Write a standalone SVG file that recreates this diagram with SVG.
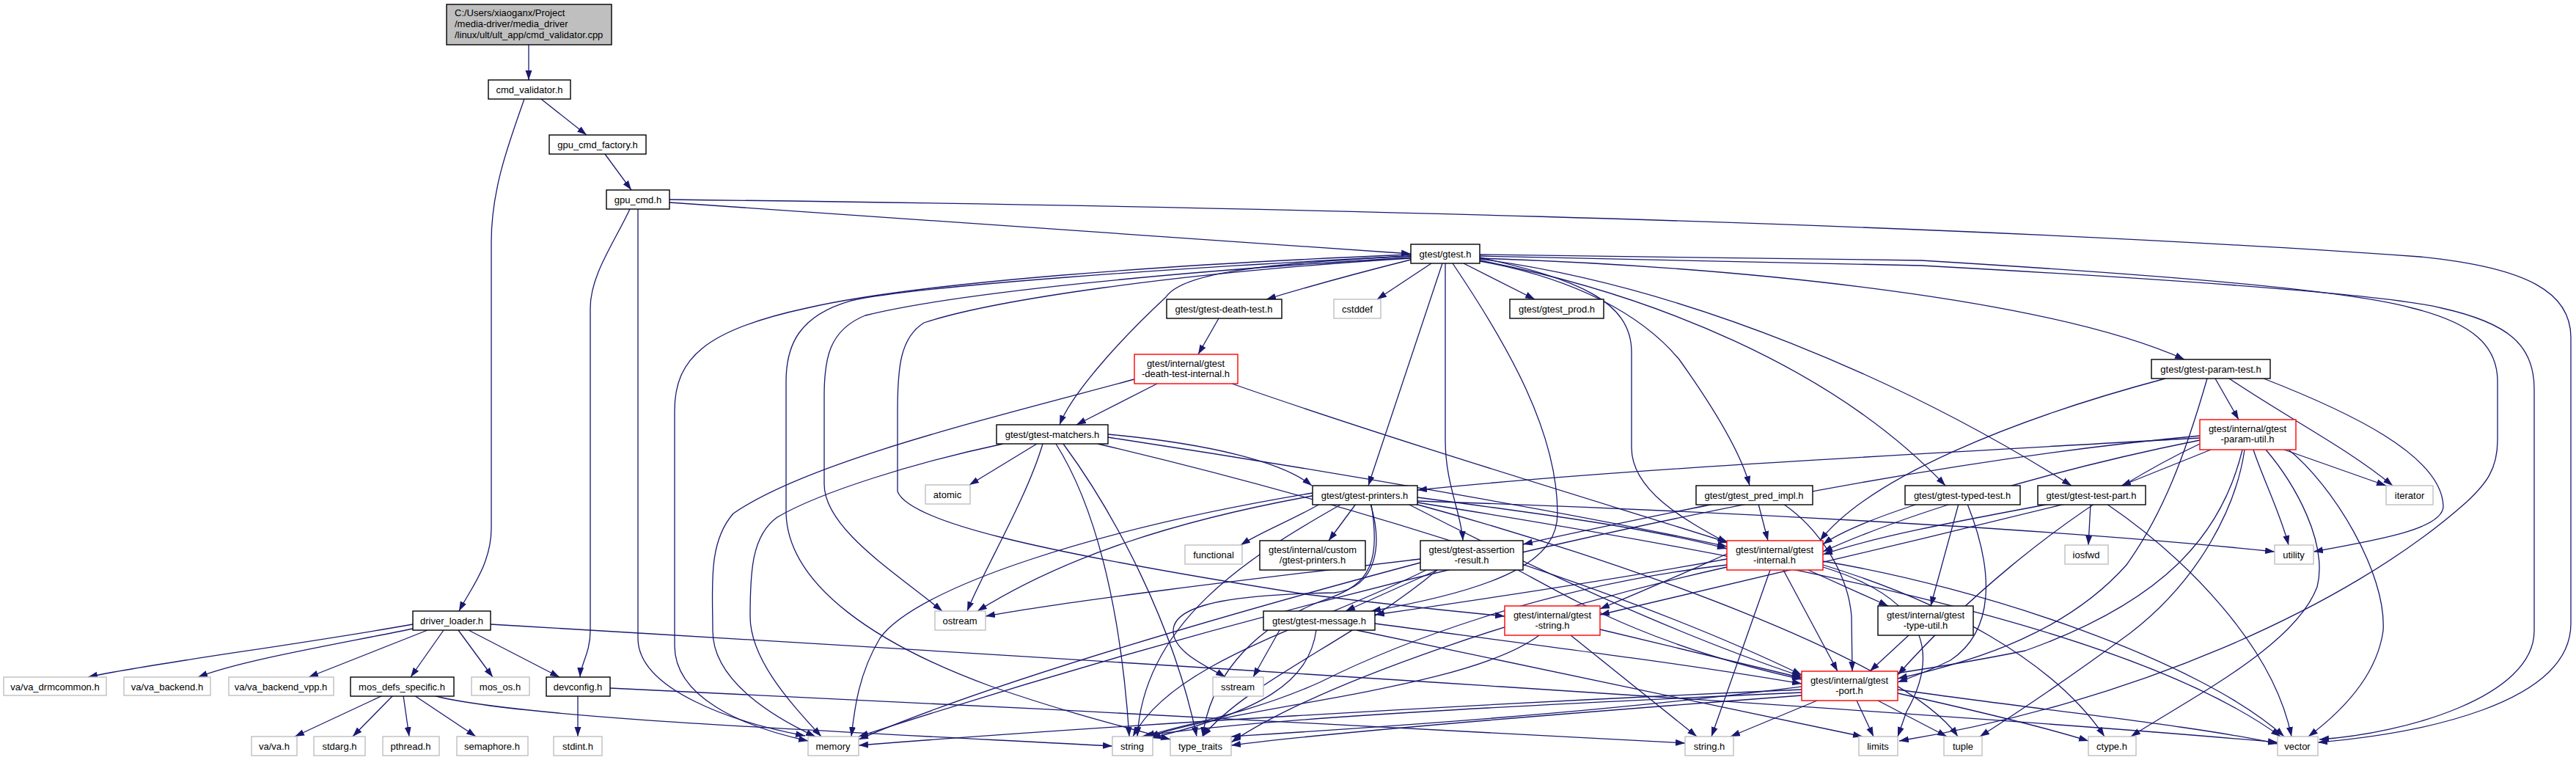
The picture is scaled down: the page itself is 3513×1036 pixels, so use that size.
<svg xmlns="http://www.w3.org/2000/svg" width="3513" height="1036" viewBox="0 0 3513 1036">
<style>
rect{fill:#fff;stroke:#000;stroke-width:1.4}
.g rect{stroke:#bfbfbf}
.r rect{stroke:#ff0000}
.root rect{fill:#bfbfbf}
text{font-family:"Liberation Sans",Arial,sans-serif;font-size:13px;fill:#000;text-anchor:middle}
.root text{text-anchor:start}
#edges path{fill:none;stroke:#191970;stroke-width:1.3;marker-end:url(#a)}
</style>
<defs>
<marker id="a" markerUnits="userSpaceOnUse" markerWidth="14" markerHeight="10" refX="13" refY="5" orient="auto"><path d="M0,0.5 L13,5 L0,9.5 z" fill="#191970"/></marker>
</defs>
<rect x="0" y="0" width="3513" height="1036" style="fill:#fff;stroke:none"/>
<g id="edges">
<path d="M721,61 L721,109"/>
<path d="M738,135 L800,184"/>
<path d="M715,135 C692,200 670,260 670,330 L670,720 C670,770 640,805 626,833"/>
<path d="M825,210 L861,259"/>
<path d="M913,276 L1924,346"/>
<path d="M913,272 C1600,280 2600,300 3300,350 C3450,365 3506,400 3506,460 L3506,850 C3506,960 3300,1000 3161,1012"/>
<path d="M859,285 C838,330 805,375 805,420 L805,860 C805,890 792,905 791,923"/>
<path d="M870,285 L870,870 C870,940 1000,985 1098,1003"/>
<path d="M563,851 C400,880 200,905 120,923"/>
<path d="M563,857 C450,880 330,900 270,923"/>
<path d="M583,859 L421,923"/>
<path d="M605,859 L560,923"/>
<path d="M625,859 L672,923"/>
<path d="M639,859 L763,923"/>
<path d="M669,851 C1500,900 2700,975 3106,1012"/>
<path d="M522,948 L402,1004"/>
<path d="M536,948 L481,1004"/>
<path d="M550,948 L558,1004"/>
<path d="M565,948 L649,1004"/>
<path d="M591,948 C700,978 1100,995 1517,1017"/>
<path d="M788,949 L788,1004"/>
<path d="M832,938 C1300,960 1900,990 2298,1013"/>
<path d="M1952,359 L1878,408"/>
<path d="M1996,359 L2093,408"/>
<path d="M1924,354 C1840,375 1780,392 1727,408"/>
<path d="M1924,349 C1700,360 1610,375 1590,405 C1520,470 1460,540 1445,579"/>
<path d="M1967,359 L1866,662"/>
<path d="M1971,359 L1971,600 C1971,660 1993,700 1995,737"/>
<path d="M1981,359 C2058,473 2124,590 2124,700 C2124,760 2060,800 1870,833"/>
<path d="M2018,351 C2150,380 2225,410 2225,480 L2225,610 C2225,670 2300,710 2355,740"/>
<path d="M2018,356 C2150,380 2240,430 2290,490 C2340,560 2375,620 2386,662"/>
<path d="M2018,355 C2250,400 2500,500 2653,662"/>
<path d="M2018,353 C2300,390 2600,520 2825,662"/>
<path d="M2018,352 C2400,365 2800,410 2979,490"/>
<path d="M2018,347 L2620,355 C2950,375 3200,395 3290,420 C3370,440 3406,470 3406,520 L3406,600 C3406,640 3390,660 3363,685 C3200,830 2900,960 2590,1010"/>
<path d="M2018,349 L2620,362 C2950,380 3250,400 3330,420 C3420,440 3456,470 3456,530 L3456,860 C3456,950 3280,1000 3163,1008"/>
<path d="M1924,347 C1600,360 1250,385 1100,420 C960,450 920,490 920,560 L920,880 C920,950 1010,990 1102,1010"/>
<path d="M1924,349 C1600,365 1250,390 1160,410 C1090,430 1072,470 1072,520 L1072,700 C1075,800 1200,880 1350,935 C1450,970 1530,990 1596,1008"/>
<path d="M1924,351 C1600,370 1300,400 1180,430 C1130,450 1124,490 1124,540 L1124,660 C1124,720 1220,780 1285,833"/>
<path d="M1924,352 C1600,372 1350,410 1260,440 C1228,460 1224,500 1224,560 L1224,670 C1240,710 1400,750 1780,810 C1900,825 2000,835 2052,840"/>
<path d="M1662,434 L1634,483"/>
<path d="M1578,523 L1468,579"/>
<path d="M1547,517 C1350,570 1100,630 1000,700 C965,740 972,800 972,860 C972,930 1060,980 1112,1004"/>
<path d="M1680,523 C1900,600 2200,690 2358,740"/>
<path d="M1414,605 L1322,661"/>
<path d="M1368,605 C1250,630 1120,670 1060,705 C1025,730 1023,780 1023,840 C1023,900 1080,960 1120,1004"/>
<path d="M1422,605 C1400,680 1340,780 1319,833"/>
<path d="M1440,605 C1500,700 1530,850 1540,1004"/>
<path d="M1450,605 C1520,700 1600,850 1632,1004"/>
<path d="M1511,592 C1650,605 1750,630 1789,662"/>
<path d="M1511,596 C1800,640 2150,700 2355,745"/>
<path d="M1497,605 C1900,700 2250,820 2457,920"/>
<path d="M1800,687 C1760,710 1720,725 1692,743"/>
<path d="M1849,687 L1812,737"/>
<path d="M1869,687 C1885,740 1880,800 1820,808 C1700,810 1600,820 1600,860 C1600,890 1650,910 1671,923"/>
<path d="M1790,672 C1500,720 1250,800 1200,870 C1170,920 1165,970 1161,1004"/>
<path d="M1795,675 C1600,710 1450,760 1333,833"/>
<path d="M1830,687 C1700,760 1560,850 1551,1004"/>
<path d="M1870,687 C1885,780 1860,800 1800,820 C1700,860 1650,930 1640,1004"/>
<path d="M1933,683 C2300,695 2800,720 3102,752"/>
<path d="M1933,685 C2400,760 2900,850 3110,1004"/>
<path d="M1930,687 C2200,760 2600,900 2670,1004"/>
<path d="M1933,678 C2100,700 2250,720 2355,748"/>
<path d="M1920,687 C2100,780 2300,870 2457,922"/>
<path d="M3021,516 L3053,572"/>
<path d="M3040,516 C3120,570 3200,610 3263,662"/>
<path d="M3087,516 C3200,560 3330,620 3332,690 C3332,720 3250,735 3155,752"/>
<path d="M2953,516 C2750,570 2550,650 2482,737"/>
<path d="M3010,516 C2980,620 2950,700 2900,770 C2820,860 2700,900 2588,925"/>
<path d="M3015,613 L2893,662"/>
<path d="M3115,613 L3254,662"/>
<path d="M3073,613 C3085,650 3110,700 3121,743"/>
<path d="M3090,613 C3130,660 3175,740 3160,800 C3130,880 2990,950 2906,1004"/>
<path d="M3121,613 C3180,660 3255,780 3250,860 C3240,930 3180,980 3148,1004"/>
<path d="M3061,613 C3050,690 3000,790 2905,863 C2800,940 2730,985 2700,1004"/>
<path d="M3058,613 C3030,730 2950,820 2762,887 C2400,960 1900,990 1679,1004"/>
<path d="M3000,597 C2600,620 2200,640 1933,668"/>
<path d="M3000,600 C2800,640 2600,700 2486,752"/>
<path d="M3000,605 C2800,700 2650,850 2588,920"/>
<path d="M3000,594 C2500,640 1800,800 1171,1004"/>
<path d="M2615,687 C2560,705 2510,725 2486,742"/>
<path d="M2671,687 L2633,826"/>
<path d="M2683,687 C2720,780 2720,860 2660,900 C2630,915 2610,922 2588,930"/>
<path d="M2851,687 L2848,743"/>
<path d="M2873,687 C2980,760 3100,880 3125,1004"/>
<path d="M2795,687 C2700,705 2560,730 2486,756"/>
<path d="M2816,687 C2600,740 2350,800 2182,838"/>
<path d="M2398,687 L2411,737"/>
<path d="M2337,687 C2250,705 2150,725 2077,742"/>
<path d="M2432,687 C2480,720 2520,780 2525,840 L2526,915"/>
<path d="M1960,777 L1835,833"/>
<path d="M2070,777 C2150,820 2250,880 2457,926"/>
<path d="M1937,767 C1700,830 1350,930 1171,1008"/>
<path d="M1937,762 C1700,790 1450,820 1344,840"/>
<path d="M1945,777 C1800,850 1600,900 1545,1004"/>
<path d="M1960,777 C1850,870 1700,930 1640,1004"/>
<path d="M2432,777 L2506,915"/>
<path d="M2414,777 L2334,1004"/>
<path d="M2355,755 C2300,780 2230,810 2182,830"/>
<path d="M2466,777 L2575,826"/>
<path d="M2355,762 C2200,790 2000,820 1875,838"/>
<path d="M2486,770 C2650,820 2800,900 2870,1004"/>
<path d="M2486,765 C2700,800 3000,900 3115,1004"/>
<path d="M2486,773 C2640,820 2640,900 2600,970 L2588,1004"/>
<path d="M2355,770 C2100,800 1900,880 1800,930 C1700,975 1600,990 1562,1004"/>
<path d="M2355,773 C2100,830 1800,930 1679,1012"/>
<path d="M2142,866 L2314,1004"/>
<path d="M2182,858 L2457,924"/>
<path d="M2099,866 C2000,940 1700,960 1567,1004"/>
<path d="M1745,859 L1709,923"/>
<path d="M1795,859 C1785,930 1720,970 1570,1006"/>
<path d="M1875,850 C2100,880 2300,905 2457,932"/>
<path d="M1850,859 L2540,1004"/>
<path d="M2603,866 L2550,915"/>
<path d="M2478,955 L2360,1004"/>
<path d="M2532,955 L2555,1004"/>
<path d="M2561,955 L2655,1004"/>
<path d="M2588,945 C2700,970 2800,995 2848,1010"/>
<path d="M2588,940 C2800,970 3000,990 3106,1014"/>
<path d="M2457,940 C2000,960 1500,990 1171,1016"/>
<path d="M2457,944 C2100,960 1700,980 1557,1004"/>
<path d="M2457,948 C2100,975 1800,1000 1679,1016"/>
</g>
<g id="n_root" class="root"><rect x="609" y="6" width="225" height="55"/><text x="620" y="22">C:/Users/xiaoganx/Project</text><text x="620" y="37">/media-driver/media_driver</text><text x="620" y="52">/linux/ult/ult_app/cmd_validator.cpp</text></g>
<g id="n_cmdv"><rect x="666" y="109" width="112" height="26"/><text x="722" y="127">cmd_validator.h</text></g>
<g id="n_gcf"><rect x="749" y="184" width="132" height="26"/><text x="815" y="202">gpu_cmd_factory.h</text></g>
<g id="n_gpu"><rect x="827" y="259" width="86" height="26"/><text x="870" y="277">gpu_cmd.h</text></g>
<g id="n_gtest"><rect x="1924" y="333" width="94" height="26"/><text x="1971" y="351">gtest/gtest.h</text></g>
<g id="n_driver"><rect x="563" y="833" width="106" height="26"/><text x="616" y="851">driver_loader.h</text></g>
<g id="n_vadrm" class="g"><rect x="5" y="923" width="140" height="25"/><text x="75" y="941">va/va_drmcommon.h</text></g>
<g id="n_vabe" class="g"><rect x="169" y="923" width="118" height="25"/><text x="228" y="941">va/va_backend.h</text></g>
<g id="n_vavpp" class="g"><rect x="312" y="923" width="143" height="25"/><text x="383" y="941">va/va_backend_vpp.h</text></g>
<g id="n_mosdefs"><rect x="478" y="923" width="141" height="26"/><text x="548" y="941">mos_defs_specific.h</text></g>
<g id="n_mosos" class="g"><rect x="643" y="923" width="79" height="25"/><text x="682" y="941">mos_os.h</text></g>
<g id="n_devcfg"><rect x="745" y="923" width="87" height="26"/><text x="788" y="941">devconfig.h</text></g>
<g id="n_vah" class="g"><rect x="343" y="1004" width="62" height="26"/><text x="374" y="1022">va/va.h</text></g>
<g id="n_stdarg" class="g"><rect x="428" y="1004" width="70" height="26"/><text x="463" y="1022">stdarg.h</text></g>
<g id="n_pthread" class="g"><rect x="522" y="1004" width="77" height="26"/><text x="560" y="1022">pthread.h</text></g>
<g id="n_semaphore" class="g"><rect x="623" y="1004" width="97" height="26"/><text x="671" y="1022">semaphore.h</text></g>
<g id="n_stdint" class="g"><rect x="755" y="1004" width="66" height="26"/><text x="788" y="1022">stdint.h</text></g>
<g id="n_deathtest"><rect x="1591" y="408" width="157" height="26"/><text x="1669" y="426">gtest/gtest-death-test.h</text></g>
<g id="n_cstddef" class="g"><rect x="1819" y="408" width="64" height="26"/><text x="1851" y="426">cstddef</text></g>
<g id="n_prod"><rect x="2059" y="408" width="128" height="26"/><text x="2123" y="426">gtest/gtest_prod.h</text></g>
<g id="n_dti" class="r"><rect x="1547" y="483" width="141" height="40"/><text x="1617" y="500">gtest/internal/gtest</text><text x="1617" y="514">-death-test-internal.h</text></g>
<g id="n_matchers"><rect x="1359" y="579" width="152" height="26"/><text x="1435" y="597">gtest/gtest-matchers.h</text></g>
<g id="n_atomic" class="g"><rect x="1262" y="661" width="61" height="26"/><text x="1292" y="679">atomic</text></g>
<g id="n_paramtest"><rect x="2934" y="490" width="162" height="26"/><text x="3015" y="508">gtest/gtest-param-test.h</text></g>
<g id="n_paramutil" class="r"><rect x="3000" y="572" width="131" height="41"/><text x="3065" y="589">gtest/internal/gtest</text><text x="3065" y="603">-param-util.h</text></g>
<g id="n_printers"><rect x="1790" y="662" width="143" height="26"/><text x="1861" y="680">gtest/gtest-printers.h</text></g>
<g id="n_predimpl"><rect x="2313" y="662" width="159" height="26"/><text x="2392" y="680">gtest/gtest_pred_impl.h</text></g>
<g id="n_typed"><rect x="2598" y="662" width="157" height="26"/><text x="2676" y="680">gtest/gtest-typed-test.h</text></g>
<g id="n_testpart"><rect x="2779" y="662" width="147" height="26"/><text x="2852" y="680">gtest/gtest-test-part.h</text></g>
<g id="n_iterator" class="g"><rect x="3254" y="662" width="64" height="26"/><text x="3286" y="680">iterator</text></g>
<g id="n_functional" class="g"><rect x="1616" y="743" width="78" height="26"/><text x="1655" y="761">functional</text></g>
<g id="n_custom"><rect x="1718" y="737" width="144" height="40"/><text x="1790" y="754">gtest/internal/custom</text><text x="1790" y="768">/gtest-printers.h</text></g>
<g id="n_assertion"><rect x="1937" y="737" width="140" height="40"/><text x="2007" y="754">gtest/gtest-assertion</text><text x="2007" y="768">-result.h</text></g>
<g id="n_internal" class="r"><rect x="2355" y="737" width="131" height="40"/><text x="2420" y="754">gtest/internal/gtest</text><text x="2420" y="768">-internal.h</text></g>
<g id="n_iosfwd" class="g"><rect x="2816" y="743" width="59" height="26"/><text x="2845" y="761">iosfwd</text></g>
<g id="n_utility" class="g"><rect x="3102" y="743" width="53" height="26"/><text x="3128" y="761">utility</text></g>
<g id="n_ostream" class="g"><rect x="1275" y="833" width="69" height="26"/><text x="1309" y="851">ostream</text></g>
<g id="n_message"><rect x="1723" y="833" width="152" height="26"/><text x="1799" y="851">gtest/gtest-message.h</text></g>
<g id="n_gstring" class="r"><rect x="2052" y="826" width="130" height="40"/><text x="2117" y="843">gtest/internal/gtest</text><text x="2117" y="857">-string.h</text></g>
<g id="n_typeutil"><rect x="2561" y="826" width="130" height="40"/><text x="2626" y="843">gtest/internal/gtest</text><text x="2626" y="857">-type-util.h</text></g>
<g id="n_sstream" class="g"><rect x="1654" y="923" width="69" height="26"/><text x="1688" y="941">sstream</text></g>
<g id="n_port" class="r"><rect x="2457" y="915" width="131" height="40"/><text x="2522" y="932">gtest/internal/gtest</text><text x="2522" y="946">-port.h</text></g>
<g id="n_memory" class="g"><rect x="1102" y="1004" width="69" height="26"/><text x="1136" y="1022">memory</text></g>
<g id="n_string" class="g"><rect x="1517" y="1004" width="55" height="26"/><text x="1544" y="1022">string</text></g>
<g id="n_typetraits" class="g"><rect x="1596" y="1004" width="83" height="26"/><text x="1637" y="1022">type_traits</text></g>
<g id="n_stringh" class="g"><rect x="2298" y="1004" width="66" height="26"/><text x="2331" y="1022">string.h</text></g>
<g id="n_limits" class="g"><rect x="2535" y="1004" width="53" height="26"/><text x="2561" y="1022">limits</text></g>
<g id="n_tuple" class="g"><rect x="2651" y="1004" width="52" height="26"/><text x="2677" y="1022">tuple</text></g>
<g id="n_ctype" class="g"><rect x="2848" y="1004" width="65" height="26"/><text x="2880" y="1022">ctype.h</text></g>
<g id="n_vector" class="g"><rect x="3106" y="1004" width="55" height="26"/><text x="3133" y="1022">vector</text></g>
</svg>
